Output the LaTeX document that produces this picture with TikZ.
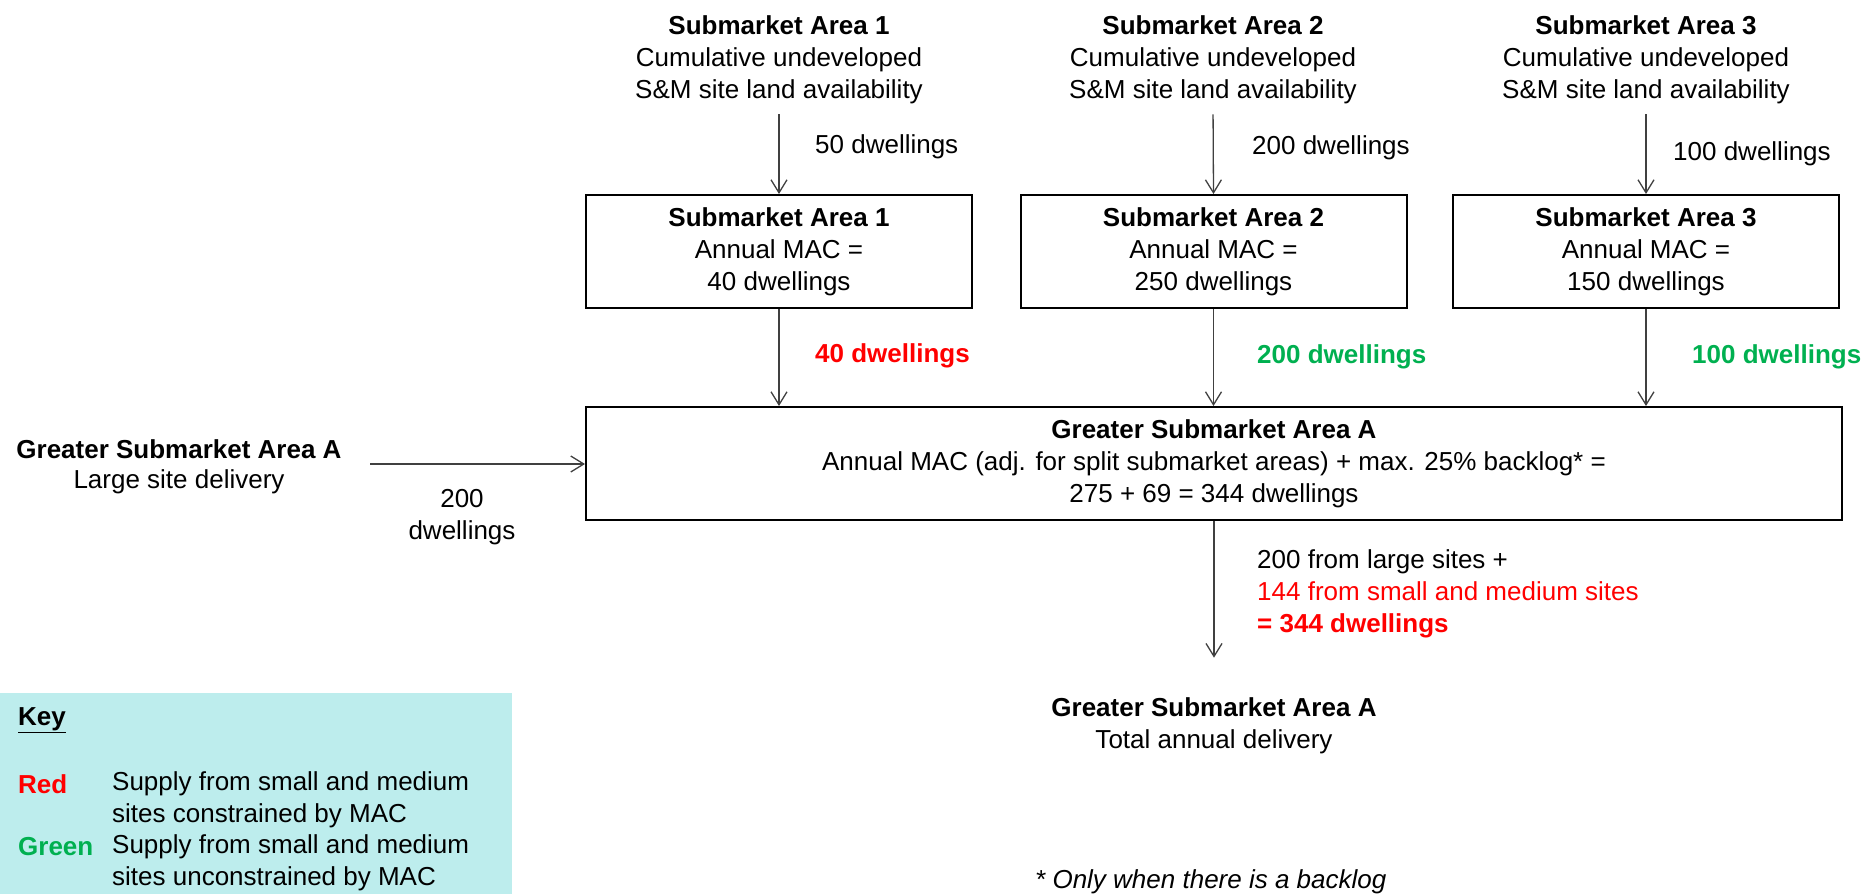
\documentclass[tikz,border=0pt]{standalone}
\usepackage{fontspec}
\setmainfont{Liberation Sans}
\usetikzlibrary{arrows.meta}
\definecolor{keyfill}{HTML}{BDEDED}
\definecolor{redtxt}{HTML}{FF0000}
\definecolor{greentxt}{HTML}{00B050}
\tikzset{
  txt/.style={font=\fontsize{26}{32}\selectfont, inner sep=0pt, align=center},
  boxnode/.style={draw=black, line width=2pt, minimum width=386pt, minimum height=113pt,
    font=\fontsize{26}{32}\selectfont, align=center, inner sep=0pt},
  arr/.style={draw=black!75, line width=1.3pt, -{Straight Barb[length=13pt,width=16pt]}},
}
\begin{document}
\begin{tikzpicture}[x=1pt,y=-1pt]
\useasboundingbox (0,0) rectangle (1863,894);

% top labels
\node[txt] (lab1) at (779,60) {\textbf{Submarket Area 1}\\Cumulative undeveloped\\S\&M site land availability};
\node[txt] (lab2) at (1213,60) {\textbf{Submarket Area 2}\\Cumulative undeveloped\\S\&M site land availability};
\node[txt] (lab3) at (1646,60) {\textbf{Submarket Area 3}\\Cumulative undeveloped\\S\&M site land availability};

% boxes
\node[boxnode] (box1) at (779,251.5) {\textbf{Submarket Area 1}\\Annual MAC =\\40 dwellings};
\node[boxnode] (box2) at (1213.5,251.5) {\textbf{Submarket Area 2}\\Annual MAC =\\250 dwellings};
\node[boxnode] (box3) at (1646,251.5) {\textbf{Submarket Area 3}\\Annual MAC =\\150 dwellings};

\node[boxnode, minimum width=1256pt] (big) at (1214,463.5) {\textbf{Greater Submarket Area A}\\Annual MAC (adj. for split submarket areas) + max. 25\% backlog* =\\275 + 69 = 344 dwellings};

% top arrows
\draw[arr, shorten <=10pt] (lab1.south) -- (box1.north);
\draw[arr, shorten <=10pt] (lab2.south) -- (box2.north);
\draw[arr, shorten <=10pt] (lab3.south) -- (box3.north);
\node[txt, anchor=west] (q1) at (815,147) {50 dwellings};
\node[txt, anchor=west] (q2) at (1252,148) {200 dwellings};
\node[txt, anchor=west] (q3) at (1673,154) {100 dwellings};

% middle arrows
\draw[arr] (box1.south) -- (box1.south |- big.north);
\draw[arr] (box2.south) -- (box2.south |- big.north);
\draw[arr] (box3.south) -- (box3.south |- big.north);
\node[txt, anchor=west, text=redtxt] (m1) at (815,356) {\textbf{40 dwellings}};
\node[txt, anchor=west, text=greentxt] (m2) at (1257,357) {\textbf{200 dwellings}};
\node[txt, anchor=west, text=greentxt] (m3) at (1692,357) {\textbf{100 dwellings}};

% left source
\node[txt, font=\fontsize{26}{30}\selectfont] (lsrc) at (179,467) {\textbf{Greater Submarket Area A}\\Large site delivery};
\coordinate (lstart) at (370,464);
\draw[arr] (lstart) -- (lstart -| big.west);
\node[txt] (lq) at (462,517) {200\\dwellings};

% bottom
\node[txt] (tot) at (1214,726) {\textbf{Greater Submarket Area A}\\Total annual delivery};
\draw[arr, shorten >=40pt] (big.south) -- (tot.north);
\node[txt, anchor=west, align=left] (sum) at (1257,594) {200 from large sites +\\\textcolor{redtxt}{144 from small and medium sites}\\\textcolor{redtxt}{\textbf{= 344 dwellings}}};

% key
\node[fill=keyfill, minimum width=512pt, minimum height=201pt, inner sep=0pt, anchor=north west] (key) at (0,693) {};
\node[txt, anchor=west] (keyt) at (18,720) {\textbf{\underline{Key}}};
\node[txt, anchor=west, text=redtxt] (kred) at (18,784) {\textbf{Red}};
\node[txt, anchor=west, align=left] (kredd) at (112,800) {Supply from small and medium\\sites constrained by MAC};
\node[txt, anchor=west, text=greentxt] (kgreen) at (18,847) {\textbf{Green}};
\node[txt, anchor=west, align=left] (kgreend) at (112,863) {Supply from small and medium\\sites unconstrained by MAC};

% footnote
\node[txt, anchor=west] (foot) at (1035,882) {\itshape * Only when there is a backlog};
\end{tikzpicture}
\end{document}
